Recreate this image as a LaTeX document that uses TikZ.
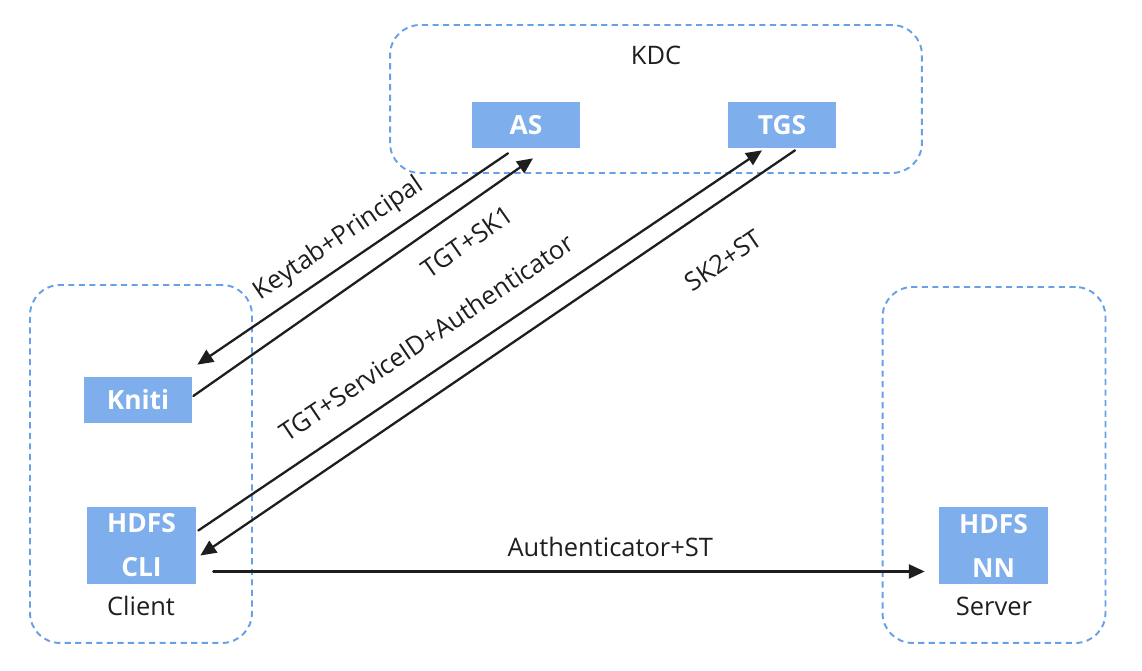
\documentclass[tikz,border=0pt]{standalone}
\usepackage{fontspec}
\setmainfont{Open Sans}
\usetikzlibrary{arrows.meta}
\definecolor{boxblue}{RGB}{126,174,236}
\definecolor{dashblue}{RGB}{104,160,232}
\definecolor{ink}{RGB}{30,30,30}

\begin{document}
\begin{tikzpicture}[
		x=0.02cm, y=-0.02cm,
		every node/.style={font=\fontsize{14.5}{25}\selectfont, text=ink},
		group/.style={draw=dashblue, dash pattern=on 3.5pt off 2.5pt, line width=1.1pt, rounded corners=0.6cm, inner sep=0},
		service/.style={fill=boxblue, text=white, font=\fontsize{15}{25}\selectfont\bfseries, inner sep=0, minimum width=2.16cm, minimum height=0.92cm, align=center},
		msg/.style={draw=ink, line width=1.3pt, line cap=round, -{Triangle[length=9pt,width=8pt]}},
		msg_label/.style={sloped, inner sep=0}
	]
  \useasboundingbox (0,0) rectangle (1142,671);
  \node (kdc) [group, minimum width=10.64cm, minimum height=2.96cm] at (656,99) {};
  \node (client) [group, minimum width=4.44cm, minimum height=7.16cm] at (141,464) {};
  \node (server) [group, minimum width=4.46cm, minimum height=7.12cm] at (994,465) {};
  \node (kdc_label) at (656,55) {KDC};
  \node (client_label) at (141,606) {Client};
  \node (server_label) at (994,606) {Server};
  \node (as) [service] at (526,125) {AS};
  \node (tgs) [service] at (782,125) {TGS};
  \node (kniti) [service] at (138,400) {Kniti};
  \node (hdfs_cli) [service, minimum width=2.18cm, minimum height=1.54cm] at (141.5,545.5) {HDFS\\CLI};
  \node (hdfs_nn) [service, minimum width=2.18cm, minimum height=1.54cm] at (993.5,545.5) {HDFS\\NN};
  \draw [msg] ([shift={(-18,5)}]as.south) -- ([shift={(5,-12)}]kniti.north east)
    node [msg_label, pos=0.5, above=0.21cm] {Keytab+Principal};
  \draw [msg] ([shift={(1,-4)}]kniti.east) -- ([shift={(7,10)}]as.south)
    node [msg_label, pos=0.755, below=0.4cm] {TGT+SK1};
  \draw [msg] ([shift={(2,-15)}]hdfs_cli.east) -- ([shift={(-20,2)}]tgs.south)
    node [msg_label, pos=0.437, above=0.43cm] {TGT+ServiceID+Authenticator};
  \draw [msg] ([shift={(13,2)}]tgs.south) -- ([shift={(4,10)}]hdfs_cli.east)
    node [msg_label, pos=0.168, below=0.8cm] {SK2+ST};
  \draw [msg] ([shift={(17,26)}]hdfs_cli.east) -- ([shift={(-14,26)}]hdfs_nn.west)
    node [pos=0.558, above=0.27cm, inner sep=0] {Authenticator+ST};
\end{tikzpicture}
\end{document}
